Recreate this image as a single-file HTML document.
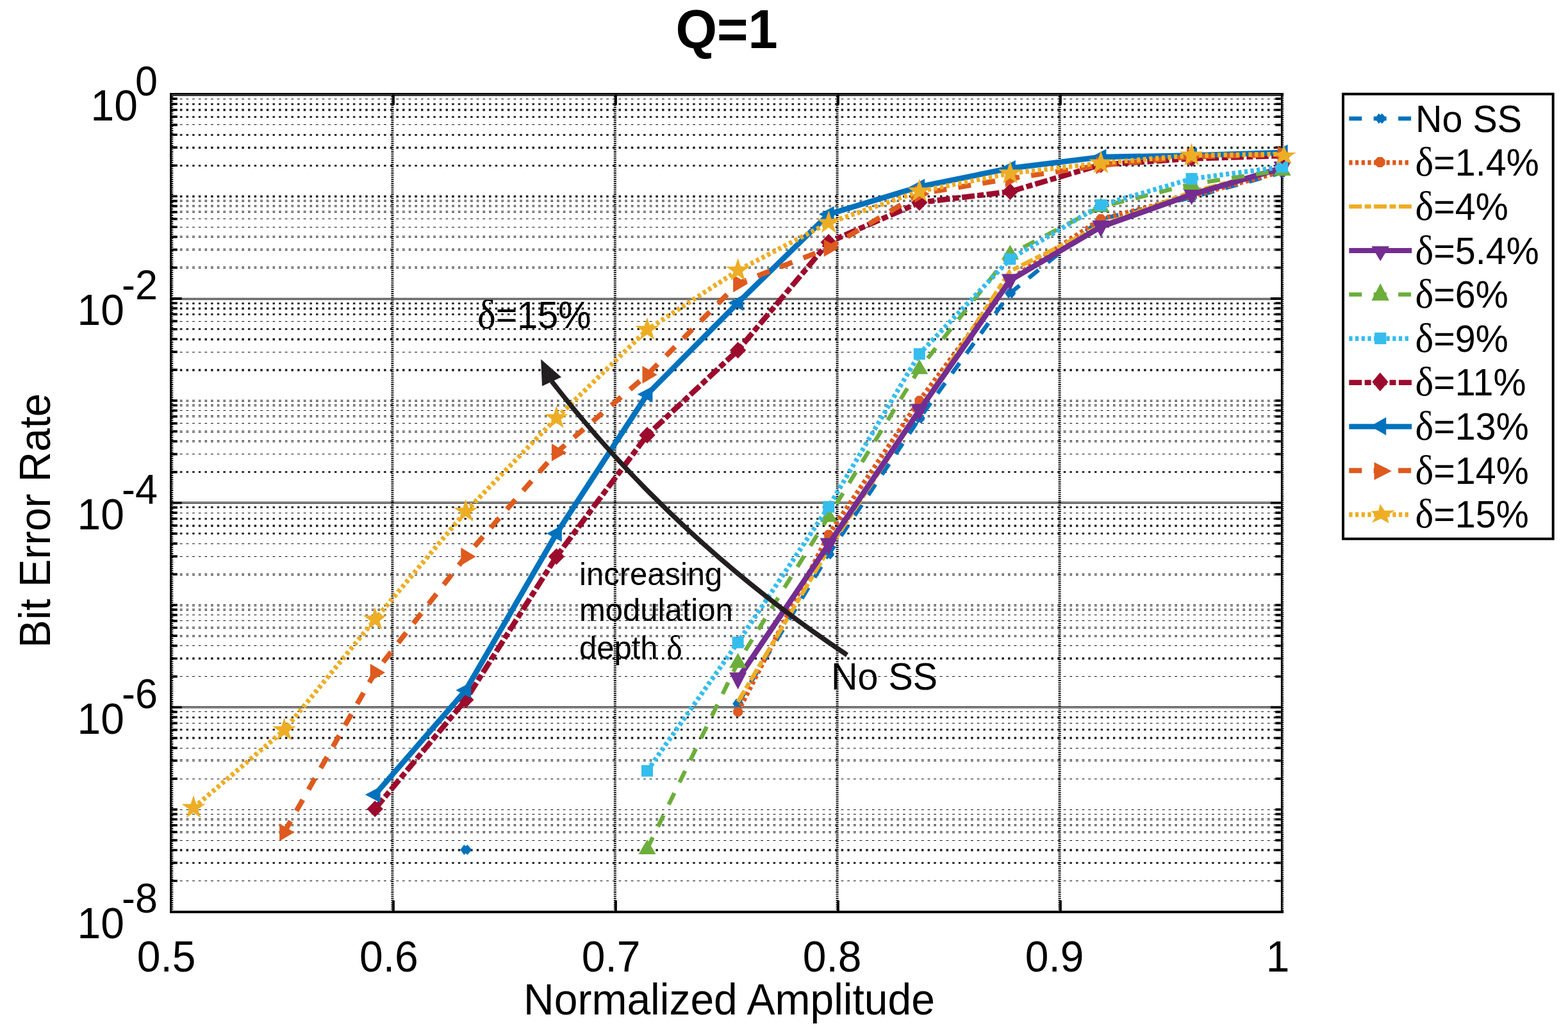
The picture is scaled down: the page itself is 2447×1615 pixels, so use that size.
<!DOCTYPE html>
<html lang="en"><head><meta charset="utf-8"><title>Q=1 Bit Error Rate vs Normalized Amplitude</title>
<style>
html,body{margin:0;padding:0;background:#fff}
body{width:2447px;height:1615px;overflow:hidden}
svg{display:block}
text{font-family:"Liberation Sans",Arial,Helvetica,sans-serif;fill:#000}
.sym{font-family:"Liberation Serif","DejaVu Serif",serif;font-size:106%}
.ga{stroke:#000;stroke-width:1.05;stroke-dasharray:3.7 5.9424;fill:none}
.gc{stroke:#000;stroke-width:3;stroke-dasharray:3.5 6.1424;fill:none;opacity:.82}
.gd{stroke:#000;stroke-width:3.6;stroke-dasharray:3.5 6.1424;fill:none;opacity:.88}
.gM{stroke:#000;stroke-width:1;fill:none}
.gt{stroke:#333;stroke-width:1.8;fill:none}
.gv{stroke:#000;stroke-width:4;stroke-dasharray:1.8 1.5;fill:none}
.gv2{stroke:#000;stroke-width:2.4;stroke-dasharray:1.8 1.5;fill:none}
.gv3{stroke:#000;stroke-width:1.8;stroke-dasharray:1.9 1.4;fill:none}
.tk{stroke:#000;stroke-width:3.7;fill:none}
.ttl{font-size:83px;font-weight:bold}
.tl{font-size:66px}
.te{font-size:63px}
.al{font-size:66px}
.lg{font-size:57.5px}
.an{font-size:57.5px}
.an2{font-size:49px}
</style></head>
<body>
<svg width="2447" height="1615" viewBox="0 0 2447 1615">
<rect width="2447" height="1615" fill="#fff"/>
<g id="grid">
<path d="M280.9 154.5H1990.5" class="ga"/>
<path d="M280.9 162.5H1990.5" class="gc"/>
<path d="M280.9 171.5H1990.5" class="gd"/>
<path d="M280.9 182.5H1990.5" class="gc"/>
<path d="M280.9 194.5H1990.5" class="ga"/>
<path d="M280.9 210.5H1990.5" class="gc"/>
<path d="M280.9 230.5H1990.5" class="gd"/>
<path d="M280.9 258.5H1990.5" class="gc"/>
<path d="M280.9 306.5H1990.5" class="gd"/>
<path d="M280.9 312.5H1990.5M280.9 314.5H1990.5" class="ga"/>
<path d="M280.9 320.5H1990.5M280.9 322.5H1990.5" class="ga"/>
<path d="M280.9 329.5H1990.5M280.9 331.5H1990.5" class="ga"/>
<path d="M280.9 341.5H1990.5" class="ga"/>
<path d="M280.9 354.5H1990.5" class="ga"/>
<path d="M280.9 368.5H1990.5M280.9 370.5H1990.5" class="ga"/>
<path d="M280.9 388.5H1990.5M280.9 390.5H1990.5" class="ga"/>
<path d="M280.9 416.5H1990.5M280.9 418.5H1990.5" class="ga"/>
<path d="M267.8 465.5H2000.9M267.8 467.5H2000.9" class="gM"/>
<path d="M280.9 473.5H1990.5" class="gc"/>
<path d="M280.9 481.5H1990.5" class="gd"/>
<path d="M280.9 490.5H1990.5" class="gc"/>
<path d="M280.9 501.5H1990.5" class="ga"/>
<path d="M280.9 513.5H1990.5" class="gc"/>
<path d="M280.9 529.5H1990.5" class="gd"/>
<path d="M280.9 549.5H1990.5" class="ga"/>
<path d="M280.9 577.5H1990.5" class="gd"/>
<path d="M280.9 624.5H1990.5M280.9 626.5H1990.5" class="ga"/>
<path d="M280.9 631.5H1990.5M280.9 633.5H1990.5" class="ga"/>
<path d="M280.9 640.5H1990.5" class="ga"/>
<path d="M280.9 648.5H1990.5M280.9 650.5H1990.5" class="ga"/>
<path d="M280.9 660.5H1990.5" class="ga"/>
<path d="M280.9 672.5H1990.5M280.9 674.5H1990.5" class="ga"/>
<path d="M280.9 687.5H1990.5M280.9 689.5H1990.5" class="ga"/>
<path d="M280.9 708.5H1990.5" class="ga"/>
<path d="M280.9 736.5H1990.5" class="gc"/>
<path d="M267.8 783.5H2000.9M267.8 785.5H2000.9" class="gM"/>
<path d="M280.9 791.5H1990.5" class="gc"/>
<path d="M280.9 800.5H1990.5" class="ga"/>
<path d="M280.9 809.5H1990.5" class="gc"/>
<path d="M280.9 820.5H1990.5" class="gd"/>
<path d="M280.9 832.5H1990.5" class="gc"/>
<path d="M280.9 848.5H1990.5" class="ga"/>
<path d="M280.9 868.5H1990.5" class="ga"/>
<path d="M280.9 895.5H1990.5M280.9 897.5H1990.5" class="ga"/>
<path d="M280.9 943.5H1990.5M280.9 945.5H1990.5" class="ga"/>
<path d="M280.9 950.5H1990.5M280.9 952.5H1990.5" class="ga"/>
<path d="M280.9 959.5H1990.5" class="ga"/>
<path d="M280.9 968.5H1990.5" class="ga"/>
<path d="M280.9 978.5H1990.5M280.9 980.5H1990.5" class="ga"/>
<path d="M280.9 991.5H1990.5M280.9 993.5H1990.5" class="ga"/>
<path d="M280.9 1007.5H1990.5" class="ga"/>
<path d="M280.9 1027.5H1990.5" class="gd"/>
<path d="M280.9 1055.5H1990.5" class="ga"/>
<path d="M267.8 1102.5H2000.9M267.8 1104.5H2000.9" class="gM"/>
<path d="M280.9 1110.5H1990.5" class="ga"/>
<path d="M280.9 1119.5H1990.5" class="gc"/>
<path d="M280.9 1128.5H1990.5" class="ga"/>
<path d="M280.9 1138.5H1990.5" class="gc"/>
<path d="M280.9 1151.5H1990.5" class="gd"/>
<path d="M280.9 1167.5H1990.5" class="ga"/>
<path d="M280.9 1185.5H1990.5M280.9 1187.5H1990.5" class="ga"/>
<path d="M280.9 1215.5H1990.5" class="ga"/>
<path d="M280.9 1263.5H1990.5" class="ga"/>
<path d="M280.9 1270.5H1990.5" class="ga"/>
<path d="M280.9 1277.5H1990.5M280.9 1279.5H1990.5" class="ga"/>
<path d="M280.9 1286.5H1990.5M280.9 1288.5H1990.5" class="ga"/>
<path d="M280.9 1297.5H1990.5M280.9 1299.5H1990.5" class="ga"/>
<path d="M280.9 1311.5H1990.5" class="ga"/>
<path d="M280.9 1326.5H1990.5" class="gd"/>
<path d="M280.9 1346.5H1990.5" class="gc"/>
<path d="M280.9 1374.5H1990.5" class="ga"/>

<path d="M612.4 150.3V1421.0" class="gv"/>
<path d="M959.8 150.3V1421.0" class="gv"/>
<path d="M1306.6 150.3V1421.0" class="gv"/>
<path d="M1653.6 150.3V1421.0" class="gv"/>
<path d="M269.1 150.3V1421.0" class="gv2"/>
<path d="M2002.3 149.3V1421.0" class="gv3"/>
<path d="M267.8 149.0H2000.9" class="gt"/>
</g>
<g id="ticks">
<path d="M268 258.26H276.8M1998.7 258.26H1990.3" class="tk"/>
<path d="M268 230.18H276.8M1998.7 230.18H1990.3" class="tk"/>
<path d="M268 210.26H276.8M1998.7 210.26H1990.3" class="tk"/>
<path d="M268 194.80H276.8M1998.7 194.80H1990.3" class="tk"/>
<path d="M268 182.18H276.8M1998.7 182.18H1990.3" class="tk"/>
<path d="M268 171.50H276.8M1998.7 171.50H1990.3" class="tk"/>
<path d="M268 162.25H276.8M1998.7 162.25H1990.3" class="tk"/>
<path d="M268 154.10H276.8M1998.7 154.10H1990.3" class="tk"/>
<path d="M268 417.72H276.8M1998.7 417.72H1990.3" class="tk"/>
<path d="M268 389.64H276.8M1998.7 389.64H1990.3" class="tk"/>
<path d="M268 369.72H276.8M1998.7 369.72H1990.3" class="tk"/>
<path d="M268 354.27H276.8M1998.7 354.27H1990.3" class="tk"/>
<path d="M268 341.64H276.8M1998.7 341.64H1990.3" class="tk"/>
<path d="M268 330.96H276.8M1998.7 330.96H1990.3" class="tk"/>
<path d="M268 321.72H276.8M1998.7 321.72H1990.3" class="tk"/>
<path d="M268 313.56H276.8M1998.7 313.56H1990.3" class="tk"/>
<path d="M268 577.18H276.8M1998.7 577.18H1990.3" class="tk"/>
<path d="M268 549.10H276.8M1998.7 549.10H1990.3" class="tk"/>
<path d="M268 529.18H276.8M1998.7 529.18H1990.3" class="tk"/>
<path d="M268 513.73H276.8M1998.7 513.73H1990.3" class="tk"/>
<path d="M268 501.10H276.8M1998.7 501.10H1990.3" class="tk"/>
<path d="M268 490.43H276.8M1998.7 490.43H1990.3" class="tk"/>
<path d="M268 481.18H276.8M1998.7 481.18H1990.3" class="tk"/>
<path d="M268 473.02H276.8M1998.7 473.02H1990.3" class="tk"/>
<path d="M268 736.65H276.8M1998.7 736.65H1990.3" class="tk"/>
<path d="M268 708.57H276.8M1998.7 708.57H1990.3" class="tk"/>
<path d="M268 688.64H276.8M1998.7 688.64H1990.3" class="tk"/>
<path d="M268 673.19H276.8M1998.7 673.19H1990.3" class="tk"/>
<path d="M268 660.56H276.8M1998.7 660.56H1990.3" class="tk"/>
<path d="M268 649.89H276.8M1998.7 649.89H1990.3" class="tk"/>
<path d="M268 640.64H276.8M1998.7 640.64H1990.3" class="tk"/>
<path d="M268 632.48H276.8M1998.7 632.48H1990.3" class="tk"/>
<path d="M268 896.11H276.8M1998.7 896.11H1990.3" class="tk"/>
<path d="M268 868.03H276.8M1998.7 868.03H1990.3" class="tk"/>
<path d="M268 848.11H276.8M1998.7 848.11H1990.3" class="tk"/>
<path d="M268 832.65H276.8M1998.7 832.65H1990.3" class="tk"/>
<path d="M268 820.03H276.8M1998.7 820.03H1990.3" class="tk"/>
<path d="M268 809.35H276.8M1998.7 809.35H1990.3" class="tk"/>
<path d="M268 800.10H276.8M1998.7 800.10H1990.3" class="tk"/>
<path d="M268 791.95H276.8M1998.7 791.95H1990.3" class="tk"/>
<path d="M268 1055.57H276.8M1998.7 1055.57H1990.3" class="tk"/>
<path d="M268 1027.49H276.8M1998.7 1027.49H1990.3" class="tk"/>
<path d="M268 1007.57H276.8M1998.7 1007.57H1990.3" class="tk"/>
<path d="M268 992.12H276.8M1998.7 992.12H1990.3" class="tk"/>
<path d="M268 979.49H276.8M1998.7 979.49H1990.3" class="tk"/>
<path d="M268 968.81H276.8M1998.7 968.81H1990.3" class="tk"/>
<path d="M268 959.57H276.8M1998.7 959.57H1990.3" class="tk"/>
<path d="M268 951.41H276.8M1998.7 951.41H1990.3" class="tk"/>
<path d="M268 1215.03H276.8M1998.7 1215.03H1990.3" class="tk"/>
<path d="M268 1186.95H276.8M1998.7 1186.95H1990.3" class="tk"/>
<path d="M268 1167.03H276.8M1998.7 1167.03H1990.3" class="tk"/>
<path d="M268 1151.58H276.8M1998.7 1151.58H1990.3" class="tk"/>
<path d="M268 1138.95H276.8M1998.7 1138.95H1990.3" class="tk"/>
<path d="M268 1128.28H276.8M1998.7 1128.28H1990.3" class="tk"/>
<path d="M268 1119.03H276.8M1998.7 1119.03H1990.3" class="tk"/>
<path d="M268 1110.87H276.8M1998.7 1110.87H1990.3" class="tk"/>
<path d="M268 1374.50H276.8M1998.7 1374.50H1990.3" class="tk"/>
<path d="M268 1346.42H276.8M1998.7 1346.42H1990.3" class="tk"/>
<path d="M268 1326.49H276.8M1998.7 1326.49H1990.3" class="tk"/>
<path d="M268 1311.04H276.8M1998.7 1311.04H1990.3" class="tk"/>
<path d="M268 1298.41H276.8M1998.7 1298.41H1990.3" class="tk"/>
<path d="M268 1287.74H276.8M1998.7 1287.74H1990.3" class="tk"/>
<path d="M268 1278.49H276.8M1998.7 1278.49H1990.3" class="tk"/>
<path d="M268 1270.33H276.8M1998.7 1270.33H1990.3" class="tk"/>
<path d="M268 306.26H276.8M1998.7 306.26H1990.3" class="tk"/>
<path d="M268 465.73H283.7M1998.7 465.73H1982.9" class="tk"/>
<path d="M268 625.19H276.8M1998.7 625.19H1990.3" class="tk"/>
<path d="M268 784.65H283.7M1998.7 784.65H1982.9" class="tk"/>
<path d="M268 944.11H276.8M1998.7 944.11H1990.3" class="tk"/>
<path d="M268 1103.58H283.7M1998.7 1103.58H1982.9" class="tk"/>
<path d="M268 1263.04H276.8M1998.7 1263.04H1990.3" class="tk"/>
<path d="M614.0 1421.1V1405.1M614.0 147.7V163.7" class="tk"/>
<path d="M961.0 1421.1V1405.1M961.0 147.7V163.7" class="tk"/>
<path d="M1308.0 1421.1V1405.1M1308.0 147.7V163.7" class="tk"/>
<path d="M1655.0 1421.1V1405.1M1655.0 147.7V163.7" class="tk"/>
</g>
<path d="M265.1 145H2003.1V147.7H265.1Z M265.1 145H268V1424.9H265.1Z M265.1 1421.1H2003.1V1424.9H265.1Z M1998.9 145H2001.6V1424.9H1998.9Z M2001 145H2003.1V149H2001Z" fill="#000"/>
<g id="labels">
<text transform="translate(1134 75.3) scale(1 1.035)" text-anchor="middle" class="ttl">Q=1</text>
<text transform="translate(259.7 1515.9) scale(1 1.035)" text-anchor="middle" class="tl">0.5</text>
<text transform="translate(606.9 1515.9) scale(1 1.035)" text-anchor="middle" class="tl">0.6</text>
<text transform="translate(953.6 1515.9) scale(1 1.035)" text-anchor="middle" class="tl">0.7</text>
<text transform="translate(1298.7 1515.9) scale(1 1.035)" text-anchor="middle" class="tl">0.8</text>
<text transform="translate(1645.7 1515.9) scale(1 1.035)" text-anchor="middle" class="tl">0.9</text>
<text transform="translate(1994 1515.9) scale(1 1.035)" text-anchor="middle" class="tl">1</text>
<text transform="translate(215.0 188.0) scale(1 1.035)" text-anchor="end" class="tl">10</text>
<text transform="translate(246.0 148.5) scale(1 1.035)" text-anchor="end" class="te">0</text>
<text transform="translate(194.0 506.9) scale(1 1.035)" text-anchor="end" class="tl">10</text>
<text transform="translate(246.0 467.4) scale(1 1.035)" text-anchor="end" class="te">-2</text>
<text transform="translate(194.0 825.9) scale(1 1.035)" text-anchor="end" class="tl">10</text>
<text transform="translate(246.0 786.4) scale(1 1.035)" text-anchor="end" class="te">-4</text>
<text transform="translate(194.0 1144.8) scale(1 1.035)" text-anchor="end" class="tl">10</text>
<text transform="translate(246.0 1105.3) scale(1 1.035)" text-anchor="end" class="te">-6</text>
<text transform="translate(194.0 1463.7) scale(1 1.035)" text-anchor="end" class="tl">10</text>
<text transform="translate(246.0 1424.2) scale(1 1.035)" text-anchor="end" class="te">-8</text>
<text transform="translate(1138 1583.2) scale(1 1.035)" text-anchor="middle" class="al">Normalized Amplitude</text>
<text transform="translate(78.3,812.3) rotate(-90) scale(1 1.035)" text-anchor="middle" class="al" style="font-size:65.6px">Bit Error Rate</text>
</g>
<g id="series">
<path d="M1151.6 1098.0 L1293.2 865.0 L1434.8 653.0 L1576.4 457.5 L1718.0 342.0 L1859.6 308.0 L2001.2 269.0" fill="none" stroke="#0072BD" stroke-width="6.5" stroke-dasharray="20 18.4" stroke-linejoin="miter"/>
<polygon points="718.4,1326.0 724.2,1318.0 726.8,1320.4 729.4,1318.0 735.2,1324.5 735.2,1327.5 729.4,1334.0 726.8,1331.6 724.2,1334.0" fill="#0072BD"/>
<polygon points="1143.2,1098.0 1149.0,1090.0 1151.6,1092.4 1154.2,1090.0 1160.0,1096.5 1160.0,1099.5 1154.2,1106.0 1151.6,1103.6 1149.0,1106.0" fill="#0072BD"/>
<polygon points="1284.8,865.0 1290.6,857.0 1293.2,859.4 1295.8,857.0 1301.6,863.5 1301.6,866.5 1295.8,873.0 1293.2,870.6 1290.6,873.0" fill="#0072BD"/>
<polygon points="1426.4,653.0 1432.2,645.0 1434.8,647.4 1437.4,645.0 1443.2,651.5 1443.2,654.5 1437.4,661.0 1434.8,658.6 1432.2,661.0" fill="#0072BD"/>
<polygon points="1568.0,457.5 1573.8,449.5 1576.4,451.9 1579.0,449.5 1584.8,456.0 1584.8,459.0 1579.0,465.5 1576.4,463.1 1573.8,465.5" fill="#0072BD"/>
<polygon points="1709.6,342.0 1715.4,334.0 1718.0,336.4 1720.6,334.0 1726.4,340.5 1726.4,343.5 1720.6,350.0 1718.0,347.6 1715.4,350.0" fill="#0072BD"/>
<polygon points="1851.2,308.0 1857.0,300.0 1859.6,302.4 1862.2,300.0 1868.0,306.5 1868.0,309.5 1862.2,316.0 1859.6,313.6 1857.0,316.0" fill="#0072BD"/>
<polygon points="1992.8,269.0 1998.6,261.0 2001.2,263.4 2003.8,261.0 2009.6,267.5 2009.6,270.5 2003.8,277.0 2001.2,274.6 1998.6,277.0" fill="#0072BD"/>
<path d="M1151.6 1110.7 L1293.2 834.2 L1434.8 625.0 L1576.4 436.0 L1718.0 341.7 L1859.6 306.0 L2001.2 267.4" fill="none" stroke="#DE5A1E" stroke-width="7.5" stroke-dasharray="5.3 4.4" stroke-linejoin="miter"/>
<polygon points="1159.0,1113.8 1154.7,1118.1 1148.5,1118.1 1144.2,1113.8 1144.2,1107.6 1148.5,1103.3 1154.7,1103.3 1159.0,1107.6" fill="#DE5A1E"/>
<polygon points="1300.6,837.3 1296.3,841.6 1290.1,841.6 1285.8,837.3 1285.8,831.1 1290.1,826.8 1296.3,826.8 1300.6,831.1" fill="#DE5A1E"/>
<polygon points="1442.2,628.1 1437.9,632.4 1431.7,632.4 1427.4,628.1 1427.4,621.9 1431.7,617.6 1437.9,617.6 1442.2,621.9" fill="#DE5A1E"/>
<polygon points="1583.8,439.1 1579.5,443.4 1573.3,443.4 1569.0,439.1 1569.0,432.9 1573.3,428.6 1579.5,428.6 1583.8,432.9" fill="#DE5A1E"/>
<polygon points="1725.4,344.8 1721.1,349.1 1714.9,349.1 1710.6,344.8 1710.6,338.6 1714.9,334.3 1721.1,334.3 1725.4,338.6" fill="#DE5A1E"/>
<polygon points="1867.0,309.1 1862.7,313.4 1856.5,313.4 1852.2,309.1 1852.2,302.9 1856.5,298.6 1862.7,298.6 1867.0,302.9" fill="#DE5A1E"/>
<polygon points="2008.6,270.5 2004.3,274.8 1998.1,274.8 1993.8,270.5 1993.8,264.3 1998.1,260.0 2004.3,260.0 2008.6,264.3" fill="#DE5A1E"/>
<path d="M1151.6 1095.0 L1293.2 857.0 L1434.8 640.0 L1576.4 423.0 L1718.0 352.0 L1859.6 299.5 L2001.2 263.0" fill="none" stroke="#EDAE25" stroke-width="6.5" stroke-dasharray="20 4.4 10 4.4" stroke-linejoin="miter"/>
<path d="M1151.6 1059.2 L1293.2 849.5 L1434.8 640.3 L1576.4 437.4 L1718.0 354.0 L1859.6 303.5 L2001.2 262.0" fill="none" stroke="#742D90" stroke-width="8.6" stroke-linejoin="miter"/>
<polygon points="1138.0,1049.2 1151.6,1075.8 1165.2,1049.2" fill="#742D90"/>
<polygon points="1279.6,839.5 1293.2,866.1 1306.8,839.5" fill="#742D90"/>
<polygon points="1421.2,630.3 1434.8,656.9 1448.4,630.3" fill="#742D90"/>
<polygon points="1562.8,427.4 1576.4,454.0 1590.0,427.4" fill="#742D90"/>
<polygon points="1704.4,344.0 1718.0,370.6 1731.6,344.0" fill="#742D90"/>
<polygon points="1846.0,293.5 1859.6,320.1 1873.2,293.5" fill="#742D90"/>
<polygon points="1987.6,252.0 2001.2,278.6 2014.8,252.0" fill="#742D90"/>
<path d="M1010.0 1324.5 L1151.6 1033.7 L1293.2 806.0 L1434.8 575.3 L1576.4 396.6 L1718.0 322.6 L1859.6 287.5 L2001.2 265.4" fill="none" stroke="#6CAE3C" stroke-width="6.5" stroke-dasharray="20 18.4" stroke-linejoin="miter"/>
<polygon points="996.4,1333.0 1010.0,1309.9 1023.6,1333.0" fill="#6CAE3C"/>
<polygon points="1138.0,1042.2 1151.6,1019.1 1165.2,1042.2" fill="#6CAE3C"/>
<polygon points="1279.6,814.5 1293.2,791.4 1306.8,814.5" fill="#6CAE3C"/>
<polygon points="1421.2,583.8 1434.8,560.7 1448.4,583.8" fill="#6CAE3C"/>
<polygon points="1562.8,405.1 1576.4,382.0 1590.0,405.1" fill="#6CAE3C"/>
<polygon points="1704.4,331.1 1718.0,308.0 1731.6,331.1" fill="#6CAE3C"/>
<polygon points="1846.0,296.0 1859.6,272.9 1873.2,296.0" fill="#6CAE3C"/>
<polygon points="1987.6,273.9 2001.2,250.8 2014.8,273.9" fill="#6CAE3C"/>
<path d="M1010.0 1202.8 L1151.6 1002.5 L1293.2 790.8 L1434.8 552.3 L1576.4 404.2 L1718.0 320.0 L1859.6 279.0 L2001.2 260.5" fill="none" stroke="#35BDEE" stroke-width="7.5" stroke-dasharray="5.3 4.4" stroke-linejoin="miter"/>
<rect x="1001.0" y="1193.8" width="18.0" height="18.0" fill="#35BDEE"/>
<rect x="1142.6" y="993.5" width="18.0" height="18.0" fill="#35BDEE"/>
<rect x="1284.2" y="781.8" width="18.0" height="18.0" fill="#35BDEE"/>
<rect x="1425.8" y="543.3" width="18.0" height="18.0" fill="#35BDEE"/>
<rect x="1567.4" y="395.2" width="18.0" height="18.0" fill="#35BDEE"/>
<rect x="1709.0" y="311.0" width="18.0" height="18.0" fill="#35BDEE"/>
<rect x="1850.6" y="270.0" width="18.0" height="18.0" fill="#35BDEE"/>
<rect x="1992.2" y="251.5" width="18.0" height="18.0" fill="#35BDEE"/>
<path d="M585.2 1262.2 L726.8 1092.0 L868.4 868.4 L1010.0 679.0 L1151.6 546.5 L1293.2 378.0 L1434.8 316.0 L1576.4 299.0 L1718.0 257.0 L1859.6 247.5 L2001.2 243.0" fill="none" stroke="#9C0B2D" stroke-width="8.5" stroke-dasharray="20 4.4 10 4.4" stroke-linejoin="miter"/>
<polygon points="572.5,1262.2 585.2,1249.3 597.9,1262.2 585.2,1275.1" fill="#9C0B2D"/>
<polygon points="714.1,1092.0 726.8,1079.1 739.5,1092.0 726.8,1104.9" fill="#9C0B2D"/>
<polygon points="855.7,868.4 868.4,855.5 881.1,868.4 868.4,881.3" fill="#9C0B2D"/>
<polygon points="997.3,679.0 1010.0,666.1 1022.7,679.0 1010.0,691.9" fill="#9C0B2D"/>
<polygon points="1138.9,546.5 1151.6,533.6 1164.3,546.5 1151.6,559.4" fill="#9C0B2D"/>
<polygon points="1280.5,378.0 1293.2,365.1 1305.9,378.0 1293.2,390.9" fill="#9C0B2D"/>
<polygon points="1422.1,316.0 1434.8,303.1 1447.5,316.0 1434.8,328.9" fill="#9C0B2D"/>
<polygon points="1563.7,299.0 1576.4,286.1 1589.1,299.0 1576.4,311.9" fill="#9C0B2D"/>
<polygon points="1705.3,257.0 1718.0,244.1 1730.7,257.0 1718.0,269.9" fill="#9C0B2D"/>
<polygon points="1846.9,247.5 1859.6,234.6 1872.3,247.5 1859.6,260.4" fill="#9C0B2D"/>
<polygon points="1988.5,243.0 2001.2,230.1 2013.9,243.0 2001.2,255.9" fill="#9C0B2D"/>
<path d="M585.2 1240.0 L726.8 1077.0 L868.4 832.6 L1010.0 615.3 L1151.6 472.5 L1293.2 334.3 L1434.8 291.5 L1576.4 262.5 L1718.0 245.0 L1859.6 242.5 L2001.2 238.0" fill="none" stroke="#0072BD" stroke-width="8.6" stroke-linejoin="miter"/>
<polygon points="593.6,1227.4 569.8,1240.0 593.6,1252.6" fill="#0072BD"/>
<polygon points="735.2,1064.4 711.4,1077.0 735.2,1089.6" fill="#0072BD"/>
<polygon points="876.8,820.0 853.0,832.6 876.8,845.2" fill="#0072BD"/>
<polygon points="1018.4,602.7 994.6,615.3 1018.4,627.9" fill="#0072BD"/>
<polygon points="1160.0,459.9 1136.2,472.5 1160.0,485.1" fill="#0072BD"/>
<polygon points="1301.6,321.7 1277.8,334.3 1301.6,346.9" fill="#0072BD"/>
<polygon points="1443.2,278.9 1419.4,291.5 1443.2,304.1" fill="#0072BD"/>
<polygon points="1584.8,249.9 1561.0,262.5 1584.8,275.1" fill="#0072BD"/>
<polygon points="1726.4,232.4 1702.6,245.0 1726.4,257.6" fill="#0072BD"/>
<polygon points="1868.0,229.9 1844.2,242.5 1868.0,255.1" fill="#0072BD"/>
<polygon points="2009.6,225.4 1985.8,238.0 2009.6,250.6" fill="#0072BD"/>
<path d="M443.6 1298.7 L585.2 1049.5 L726.8 868.4 L868.4 706.0 L1010.0 584.7 L1151.6 442.5 L1293.2 387.0 L1434.8 302.5 L1576.4 278.5 L1718.0 258.0 L1859.6 244.5 L2001.2 241.5" fill="none" stroke="#DE5A1E" stroke-width="8" stroke-dasharray="20 18.4" stroke-linejoin="miter"/>
<polygon points="436.1,1284.9 459.4,1298.7 436.1,1312.5" fill="#DE5A1E"/>
<polygon points="577.7,1035.7 601.0,1049.5 577.7,1063.3" fill="#DE5A1E"/>
<polygon points="719.3,854.6 742.6,868.4 719.3,882.2" fill="#DE5A1E"/>
<polygon points="860.9,692.2 884.2,706.0 860.9,719.8" fill="#DE5A1E"/>
<polygon points="1002.5,570.9 1025.8,584.7 1002.5,598.5" fill="#DE5A1E"/>
<polygon points="1144.1,428.7 1167.4,442.5 1144.1,456.3" fill="#DE5A1E"/>
<polygon points="1285.7,373.2 1309.0,387.0 1285.7,400.8" fill="#DE5A1E"/>
<polygon points="1427.3,288.7 1450.6,302.5 1427.3,316.3" fill="#DE5A1E"/>
<polygon points="1568.9,264.7 1592.2,278.5 1568.9,292.3" fill="#DE5A1E"/>
<polygon points="1710.5,244.2 1733.8,258.0 1710.5,271.8" fill="#DE5A1E"/>
<polygon points="1852.1,230.7 1875.4,244.5 1852.1,258.3" fill="#DE5A1E"/>
<polygon points="1993.7,227.7 2017.0,241.5 1993.7,255.3" fill="#DE5A1E"/>
<path d="M302.0 1260.5 L443.6 1139.3 L585.2 966.6 L726.8 798.2 L868.4 652.3 L1010.0 514.5 L1151.6 422.0 L1293.2 347.7 L1434.8 298.5 L1576.4 270.5 L1718.0 254.5 L1859.6 242.5 L2001.2 240.5" fill="none" stroke="#EDAE25" stroke-width="7.5" stroke-dasharray="5.3 4.4" stroke-linejoin="miter"/>
<polygon points="302.0,1241.1 306.4,1254.5 320.5,1254.5 309.0,1262.8 313.4,1276.2 302.0,1267.9 290.6,1276.2 295.0,1262.8 283.5,1254.5 297.6,1254.5" fill="#EDAE25"/>
<polygon points="443.6,1119.9 448.0,1133.3 462.1,1133.3 450.6,1141.6 455.0,1155.0 443.6,1146.7 432.2,1155.0 436.6,1141.6 425.1,1133.3 439.2,1133.3" fill="#EDAE25"/>
<polygon points="585.2,947.2 589.6,960.6 603.7,960.6 592.2,968.9 596.6,982.3 585.2,974.0 573.8,982.3 578.2,968.9 566.7,960.6 580.8,960.6" fill="#EDAE25"/>
<polygon points="726.8,778.8 731.2,792.2 745.3,792.2 733.8,800.5 738.2,813.9 726.8,805.6 715.4,813.9 719.8,800.5 708.3,792.2 722.4,792.2" fill="#EDAE25"/>
<polygon points="868.4,632.9 872.8,646.3 886.9,646.3 875.4,654.6 879.8,668.0 868.4,659.7 857.0,668.0 861.4,654.6 849.9,646.3 864.0,646.3" fill="#EDAE25"/>
<polygon points="1010.0,495.1 1014.4,508.5 1028.5,508.5 1017.0,516.8 1021.4,530.2 1010.0,521.9 998.6,530.2 1003.0,516.8 991.5,508.5 1005.6,508.5" fill="#EDAE25"/>
<polygon points="1151.6,402.6 1156.0,416.0 1170.1,416.0 1158.6,424.3 1163.0,437.7 1151.6,429.4 1140.2,437.7 1144.6,424.3 1133.1,416.0 1147.2,416.0" fill="#EDAE25"/>
<polygon points="1293.2,328.3 1297.6,341.7 1311.7,341.7 1300.2,350.0 1304.6,363.4 1293.2,355.1 1281.8,363.4 1286.2,350.0 1274.7,341.7 1288.8,341.7" fill="#EDAE25"/>
<polygon points="1434.8,279.1 1439.2,292.5 1453.3,292.5 1441.8,300.8 1446.2,314.2 1434.8,305.9 1423.4,314.2 1427.8,300.8 1416.3,292.5 1430.4,292.5" fill="#EDAE25"/>
<polygon points="1576.4,251.1 1580.8,264.5 1594.9,264.5 1583.4,272.8 1587.8,286.2 1576.4,277.9 1565.0,286.2 1569.4,272.8 1557.9,264.5 1572.0,264.5" fill="#EDAE25"/>
<polygon points="1718.0,235.1 1722.4,248.5 1736.5,248.5 1725.0,256.8 1729.4,270.2 1718.0,261.9 1706.6,270.2 1711.0,256.8 1699.5,248.5 1713.6,248.5" fill="#EDAE25"/>
<polygon points="1859.6,223.1 1864.0,236.5 1878.1,236.5 1866.6,244.8 1871.0,258.2 1859.6,249.9 1848.2,258.2 1852.6,244.8 1841.1,236.5 1855.2,236.5" fill="#EDAE25"/>
<g transform="translate(2003.7 243.0) scale(1.04 0.84)"><polygon points="0.0,-19.4 4.4,-6.0 18.5,-6.0 7.0,2.3 11.4,15.7 0.0,7.4 -11.4,15.7 -7.0,2.3 -18.5,-6.0 -4.4,-6.0" fill="#EDAE25"/></g>
</g>
<g id="annot">
<path d="M861.0 595.0C989.1 760.9 1147.9 906.1 1322.0 1022.0" fill="none" stroke="#231F20" stroke-width="7.6"/>
<polygon points="844.1,560.5 876,588.5 846,602.5" fill="#231F20"/>
<text transform="translate(745 512) scale(1 1.035)" class="an"><tspan class="sym">δ</tspan>=15%</text>
<text transform="translate(1297 1076.3) scale(1 1.035)" class="an">No SS</text>
<text transform="translate(904 913.3) scale(1 1.035)" class="an2">increasing</text>
<text transform="translate(904 968.6) scale(1 1.035)" class="an2">modulation</text>
<text transform="translate(904 1027.8) scale(1 1.035)" class="an2">depth <tspan class="sym">δ</tspan></text>
</g>
<g id="legend">
<rect x="2096.0" y="146.7" width="327.7" height="694.1" fill="#fff" stroke="#000" stroke-width="4"/>
<path d="M2105.3 185.0H2203.2" fill="none" stroke="#0072BD" stroke-width="6.5" stroke-dasharray="20 18.4"/>
<polygon points="2145.8,185.0 2151.6,177.0 2154.2,179.4 2156.8,177.0 2162.6,183.5 2162.6,186.5 2156.8,193.0 2154.2,190.6 2151.6,193.0" fill="#0072BD"/>
<text transform="translate(2209 205.5) scale(1 1.035)" class="lg">No SS</text>
<path d="M2105.3 253.7H2198.0" fill="none" stroke="#DE5A1E" stroke-width="7.5" stroke-dasharray="5.3 4.4"/>
<polygon points="2161.6,256.4 2156.9,261.0 2150.3,261.0 2145.6,256.4 2145.6,249.7 2150.3,245.1 2156.9,245.1 2161.6,249.7" fill="#DE5A1E"/>
<text transform="translate(2208.5 274.1) scale(1 1.035)" class="lg"><tspan class="sym">δ</tspan>=1.4%</text>
<path d="M2105.3 322.3H2203.2" fill="none" stroke="#EDAE25" stroke-width="6.5" stroke-dasharray="20 4.4 10 4.4"/>
<text transform="translate(2208.5 342.8) scale(1 1.035)" class="lg"><tspan class="sym">δ</tspan>=4%</text>
<path d="M2105.3 391.0H2203.2" fill="none" stroke="#742D90" stroke-width="8.2"/>
<polygon points="2140.3,384.2 2168.1,384.2 2154.2,407.4" fill="#742D90"/>
<text transform="translate(2208.5 411.5) scale(1 1.035)" class="lg"><tspan class="sym">δ</tspan>=5.4%</text>
<path d="M2105.3 459.6H2203.2" fill="none" stroke="#6CAE3C" stroke-width="6.5" stroke-dasharray="20 18.4"/>
<polygon points="2140.4,469.0 2168.0,469.0 2154.2,441.9" fill="#6CAE3C"/>
<text transform="translate(2208.5 480.1) scale(1 1.035)" class="lg"><tspan class="sym">δ</tspan>=6%</text>
<path d="M2105.3 528.2H2198.0" fill="none" stroke="#35BDEE" stroke-width="7.5" stroke-dasharray="5.3 4.4"/>
<rect x="2145.1" y="518.9" width="18.2" height="18.2" fill="#35BDEE"/>
<text transform="translate(2208.5 548.8) scale(1 1.035)" class="lg"><tspan class="sym">δ</tspan>=9%</text>
<path d="M2105.3 596.9H2203.2" fill="none" stroke="#9C0B2D" stroke-width="8.2" stroke-dasharray="20 4.4 10 4.4"/>
<polygon points="2141.3,595.9 2153.8,581.3 2166.5,595.9 2153.8,610.5" fill="#9C0B2D"/>
<text transform="translate(2208.5 617.4) scale(1 1.035)" class="lg"><tspan class="sym">δ</tspan>=11%</text>
<path d="M2105.3 665.6H2203.2" fill="none" stroke="#0072BD" stroke-width="8.2"/>
<polygon points="2163.2,650.9 2138.7,665.1 2163.2,679.3" fill="#0072BD"/>
<text transform="translate(2208.5 686.1) scale(1 1.035)" class="lg"><tspan class="sym">δ</tspan>=13%</text>
<path d="M2105.3 734.2H2203.2" fill="none" stroke="#DE5A1E" stroke-width="8" stroke-dasharray="20 18.4"/>
<polygon points="2144.5,721.2 2171.9,735.1 2144.5,749.0" fill="#DE5A1E"/>
<text transform="translate(2208.5 754.7) scale(1 1.035)" class="lg"><tspan class="sym">δ</tspan>=14%</text>
<path d="M2105.3 802.9H2198.0" fill="none" stroke="#EDAE25" stroke-width="7.5" stroke-dasharray="5.3 4.4"/>
<polygon points="2153.7,786.6 2160.9,796.8 2177.2,796.3 2164.5,804.5 2167.5,816.4 2155.1,809.6 2140.9,815.7 2147.8,804.7 2139.7,797.5 2151.2,797.1" fill="#EDAE25"/>
<text transform="translate(2208.5 823.4) scale(1 1.035)" class="lg"><tspan class="sym">δ</tspan>=15%</text>
</g>
</svg>
</body></html>
